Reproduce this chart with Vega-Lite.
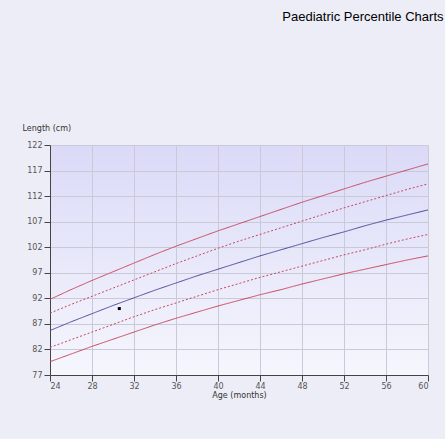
{
  "$schema": "https://vega.github.io/schema/vega-lite/v6.json",
  "width": 378,
  "height": 230,
  "autosize": {"type": "none"},
  "padding": {"left": 50, "top": 145, "right": 17, "bottom": 64},
  "background": "#ededf7",
  "title": {
    "text": "Paediatric Percentile Charts",
    "anchor": "end",
    "offset": 100,
    "dx": 15,
    "font": "Liberation Sans",
    "fontSize": 13,
    "fontWeight": "normal",
    "color": "#000000"
  },
  "config": {
    "view": {
      "stroke": null,
      "fill": {
        "gradient": "linear",
        "x1": 0, "y1": 0, "x2": 0, "y2": 1,
        "stops": [
          {"offset": 0, "color": "#dadaf8"},
          {"offset": 1, "color": "#f6f6fd"}
        ]
      }
    },
    "axis": {
      "labelFont": "DejaVu Sans",
      "labelFontSize": 8,
      "labelColor": "#555555",
      "labelOverlap": false,
      "titleFont": "DejaVu Sans",
      "titleFontSize": 8,
      "titleFontWeight": "normal",
      "titleColor": "#333333",
      "domainColor": "#444444",
      "tickColor": "#444444",
      "tickSize": 6,
      "gridColor": "#c9c9d8",
      "gridOpacity": 1
    }
  },
  "datasets": {
    "curves": [
      {"age": 24, "value": 91.8, "series": "P97"},
      {"age": 26, "value": 93.7, "series": "P97"},
      {"age": 28, "value": 95.5, "series": "P97"},
      {"age": 30, "value": 97.2, "series": "P97"},
      {"age": 32, "value": 98.9, "series": "P97"},
      {"age": 34, "value": 100.6, "series": "P97"},
      {"age": 36, "value": 102.2, "series": "P97"},
      {"age": 38, "value": 103.7, "series": "P97"},
      {"age": 40, "value": 105.2, "series": "P97"},
      {"age": 42, "value": 106.6, "series": "P97"},
      {"age": 44, "value": 108.0, "series": "P97"},
      {"age": 46, "value": 109.4, "series": "P97"},
      {"age": 48, "value": 110.8, "series": "P97"},
      {"age": 50, "value": 112.1, "series": "P97"},
      {"age": 52, "value": 113.4, "series": "P97"},
      {"age": 54, "value": 114.7, "series": "P97"},
      {"age": 56, "value": 115.9, "series": "P97"},
      {"age": 58, "value": 117.1, "series": "P97"},
      {"age": 60, "value": 118.3, "series": "P97"},
      {"age": 24, "value": 89.1, "series": "P85"},
      {"age": 26, "value": 90.8, "series": "P85"},
      {"age": 28, "value": 92.4, "series": "P85"},
      {"age": 30, "value": 94.0, "series": "P85"},
      {"age": 32, "value": 95.6, "series": "P85"},
      {"age": 34, "value": 97.2, "series": "P85"},
      {"age": 36, "value": 98.8, "series": "P85"},
      {"age": 38, "value": 100.3, "series": "P85"},
      {"age": 40, "value": 101.8, "series": "P85"},
      {"age": 42, "value": 103.2, "series": "P85"},
      {"age": 44, "value": 104.5, "series": "P85"},
      {"age": 46, "value": 105.8, "series": "P85"},
      {"age": 48, "value": 107.1, "series": "P85"},
      {"age": 50, "value": 108.4, "series": "P85"},
      {"age": 52, "value": 109.7, "series": "P85"},
      {"age": 54, "value": 110.9, "series": "P85"},
      {"age": 56, "value": 112.1, "series": "P85"},
      {"age": 58, "value": 113.3, "series": "P85"},
      {"age": 60, "value": 114.4, "series": "P85"},
      {"age": 24, "value": 85.7, "series": "P50"},
      {"age": 26, "value": 87.4, "series": "P50"},
      {"age": 28, "value": 89.0, "series": "P50"},
      {"age": 30, "value": 90.6, "series": "P50"},
      {"age": 32, "value": 92.1, "series": "P50"},
      {"age": 34, "value": 93.6, "series": "P50"},
      {"age": 36, "value": 95.0, "series": "P50"},
      {"age": 38, "value": 96.4, "series": "P50"},
      {"age": 40, "value": 97.7, "series": "P50"},
      {"age": 42, "value": 99.0, "series": "P50"},
      {"age": 44, "value": 100.3, "series": "P50"},
      {"age": 46, "value": 101.5, "series": "P50"},
      {"age": 48, "value": 102.7, "series": "P50"},
      {"age": 50, "value": 103.9, "series": "P50"},
      {"age": 52, "value": 105.0, "series": "P50"},
      {"age": 54, "value": 106.2, "series": "P50"},
      {"age": 56, "value": 107.3, "series": "P50"},
      {"age": 58, "value": 108.3, "series": "P50"},
      {"age": 60, "value": 109.3, "series": "P50"},
      {"age": 24, "value": 82.4, "series": "P15"},
      {"age": 26, "value": 83.9, "series": "P15"},
      {"age": 28, "value": 85.4, "series": "P15"},
      {"age": 30, "value": 86.9, "series": "P15"},
      {"age": 32, "value": 88.4, "series": "P15"},
      {"age": 34, "value": 89.8, "series": "P15"},
      {"age": 36, "value": 91.1, "series": "P15"},
      {"age": 38, "value": 92.4, "series": "P15"},
      {"age": 40, "value": 93.7, "series": "P15"},
      {"age": 42, "value": 94.9, "series": "P15"},
      {"age": 44, "value": 96.1, "series": "P15"},
      {"age": 46, "value": 97.2, "series": "P15"},
      {"age": 48, "value": 98.3, "series": "P15"},
      {"age": 50, "value": 99.4, "series": "P15"},
      {"age": 52, "value": 100.5, "series": "P15"},
      {"age": 54, "value": 101.5, "series": "P15"},
      {"age": 56, "value": 102.6, "series": "P15"},
      {"age": 58, "value": 103.6, "series": "P15"},
      {"age": 60, "value": 104.5, "series": "P15"},
      {"age": 24, "value": 79.6, "series": "P3"},
      {"age": 26, "value": 81.1, "series": "P3"},
      {"age": 28, "value": 82.6, "series": "P3"},
      {"age": 30, "value": 84.0, "series": "P3"},
      {"age": 32, "value": 85.4, "series": "P3"},
      {"age": 34, "value": 86.8, "series": "P3"},
      {"age": 36, "value": 88.1, "series": "P3"},
      {"age": 38, "value": 89.3, "series": "P3"},
      {"age": 40, "value": 90.5, "series": "P3"},
      {"age": 42, "value": 91.6, "series": "P3"},
      {"age": 44, "value": 92.7, "series": "P3"},
      {"age": 46, "value": 93.7, "series": "P3"},
      {"age": 48, "value": 94.8, "series": "P3"},
      {"age": 50, "value": 95.8, "series": "P3"},
      {"age": 52, "value": 96.8, "series": "P3"},
      {"age": 54, "value": 97.7, "series": "P3"},
      {"age": 56, "value": 98.6, "series": "P3"},
      {"age": 58, "value": 99.5, "series": "P3"},
      {"age": 60, "value": 100.3, "series": "P3"}
    ],
    "patient": [
      {"age": 30.6, "value": 90.0}
    ]
  },
  "layer": [
    {
      "data": {"name": "curves"},
      "mark": {"type": "line", "strokeWidth": 1, "clip": true},
      "encoding": {
        "x": {
          "field": "age",
          "type": "quantitative",
          "scale": {"domain": [24, 60], "nice": false, "zero": false},
          "axis": {
            "values": [24, 28, 32, 36, 40, 44, 48, 52, 56, 60],
            "tickCount": 20,
            "title": "Age (months)",
            "titlePadding": 1,
            "labelPadding": 1
          }
        },
        "y": {
          "field": "value",
          "type": "quantitative",
          "scale": {"domain": [77, 122], "nice": false, "zero": false},
          "axis": {
            "values": [77, 82, 87, 92, 97, 102, 107, 112, 117, 122],
            "tickCount": 20,
            "title": "Length (cm)",
            "titleAngle": 0,
            "titleAlign": "left",
            "titleBaseline": "middle",
            "titleX": -28,
            "titleY": -17,
            "labelPadding": 2
          }
        },
        "detail": {"field": "series"},
        "color": {
          "field": "series",
          "type": "nominal",
          "scale": {
            "domain": ["P3", "P15", "P50", "P85", "P97"],
            "range": ["#c8475c", "#c8475c", "#4a4a98", "#c8475c", "#c8475c"]
          },
          "legend": null
        },
        "strokeDash": {
          "field": "series",
          "type": "nominal",
          "scale": {
            "domain": ["P3", "P15", "P50", "P85", "P97"],
            "range": [[1, 0], [2, 2], [1, 0], [2, 2], [1, 0]]
          },
          "legend": null
        }
      }
    },
    {
      "data": {"name": "patient"},
      "mark": {"type": "square", "size": 9, "color": "#000000", "opacity": 1},
      "encoding": {
        "x": {"field": "age", "type": "quantitative"},
        "y": {"field": "value", "type": "quantitative"}
      }
    }
  ]
}
